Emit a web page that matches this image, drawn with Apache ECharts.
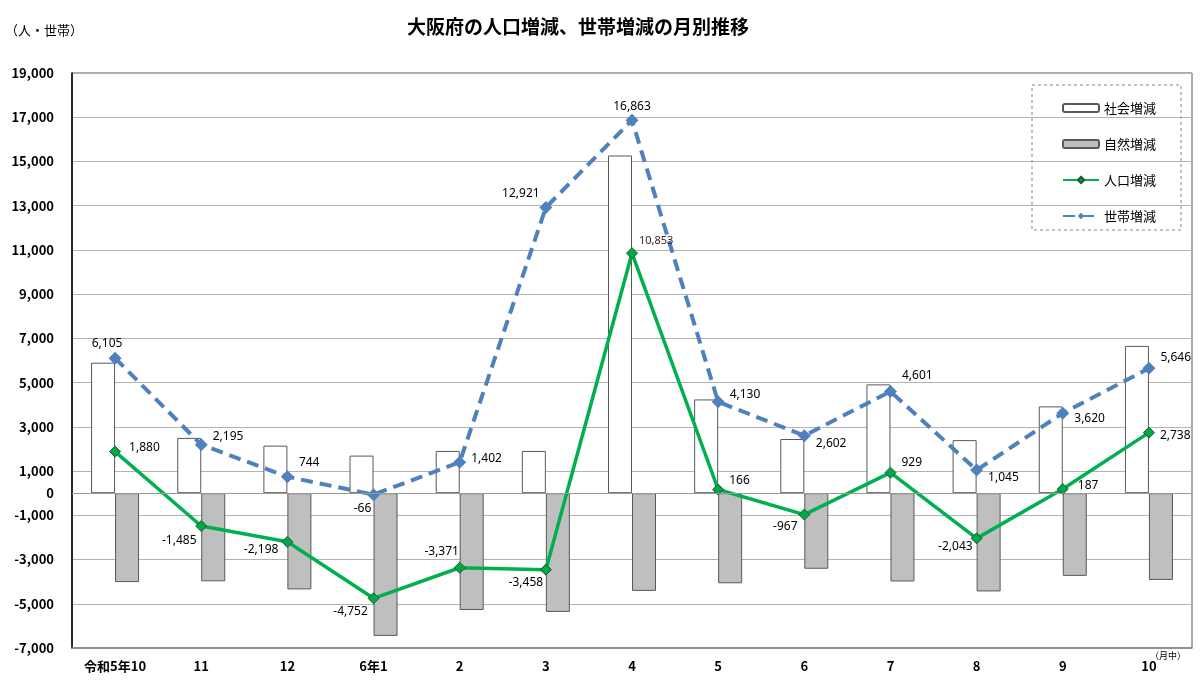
<!DOCTYPE html>
<html lang="ja">
<head>
    <meta charset="UTF-8">
    <title>大阪府の人口増減、世帯増減の月別推移</title>
    <style>
        html, body {
            margin: 0;
            height: 100%;
            background: #fff;
        }
        #main {
            width: 1200px;
            height: 699px;
        }
    </style>
    <script src="https://cdn.jsdelivr.net/npm/echarts@6/dist/echarts.min.js"></script>
</head>
<body>
    <div id="main"></div>
    <script>
        // 月
        const months = ['令和5年10', '11', '12', '6年1', '2', '3', '4', '5', '6', '7', '8', '9', '10']
        // 社会増減・自然増減（棒、目盛りから読み取り）
        const socialChange = [5900, 2500, 2150, 1700, 1910, 1910, 15270, 4240, 2450, 4920, 2400, 3925, 6660]
        const naturalChange = [-4020, -3985, -4350, -6452, -5281, -5368, -4417, -4074, -3417, -3991, -4443, -3738, -3922]
        // 人口増減・世帯増減（折れ線）
        const populationChange = [1880, -1485, -2198, -4752, -3371, -3458, 10853, 166, -967, 929, -2043, 187, 2738]
        const householdChange = [6105, 2195, 744, -66, 1402, 12921, 16863, 4130, 2602, 4601, 1045, 3620, 5646]

        // ラベルの置き場所 [position, dx, dy]
        const householdLabelPos = [
            ['top', -8, 3], ['right', 0, -8], ['right', 0, -14], ['bottom', -11, -4],
            ['right', 0, -4], ['top', -25, 4], ['top', 0, 4], ['right', 0, -7],
            ['right', 0, 8], ['right', 0, -16], ['right', 0, 7], ['right', 0, 5], ['right', 0, -11]
        ]
        const populationLabelPos = [
            ['right', 3, -4], ['bottom', -22, -2], ['left', 2, 8], ['bottom', -23, -4],
            ['top', -18, 1], ['bottom', -20, -4], ['right', -4, -12], ['right', 0, -9],
            ['bottom', -19, -5], ['right', 0, -10], ['left', 7, 8], ['right', 4, -3], ['right', 0, 3]
        ]

        const fmt = v => v.toLocaleString('en-US')
        const boldFont = '"Noto Sans CJK JP", sans-serif'
        const numFont = '"Noto Sans", sans-serif'

        function withLabels (values, pos) {
            return values.map((v, i) => ({
                value: v,
                label: {
                    position: pos[i][0],
                    offset: [pos[i][1], pos[i][2]]
                }
            }))
        }

        const popData = withLabels(populationChange, populationLabelPos)
        popData[6].label.fontSize = 11
        popData[6].label.color = '#3c1e1e'

        const chart = echarts.init(document.getElementById('main'))

        chart.setOption({
            animation: false,
            title: {
                text: '大阪府の人口増減、世帯増減の月別推移',
                left: 402,
                top: 12,
                textStyle: { fontFamily: boldFont, fontSize: 19, fontWeight: 'bold', color: '#000' }
            },
            grid: {
                left: 72,
                right: 8,
                top: 73,
                bottom: 51,
                show: true,
                borderColor: '#555',
                borderWidth: 1
            },
            legend: {
                orient: 'vertical',
                left: 1057,
                top: 95,
                itemWidth: 36,
                itemHeight: 8,
                itemGap: 20,
                textStyle: { fontFamily: boldFont, fontSize: 13, color: '#000', lineHeight: 16 },
                data: ['社会増減', '自然増減', '人口増減', '世帯増減']
            },
            graphic: [
                {
                    type: 'rect',
                    shape: { x: 1032, y: 85, width: 149, height: 145 },
                    style: { fill: '#fff', stroke: '#888', lineWidth: 1, lineDash: [3, 3] },
                    z: -1
                },
                {
                    type: 'text',
                    left: 5,
                    top: 24,
                    style: { text: '（人・世帯）', font: '13px "Noto Sans CJK JP"', fill: '#000' }
                },
                {
                    type: 'text',
                    left: 1150,
                    top: 651,
                    style: { text: '（月中）', font: '9px "Noto Sans CJK JP"', fill: '#000' }
                }
            ],
            xAxis: {
                type: 'category',
                data: months,
                axisLine: { onZero: false, lineStyle: { color: '#888', width: 1.5 } },
                axisTick: { show: false },
                axisLabel: {
                    margin: 12,
                    interval: 0,
                    fontFamily: boldFont,
                    fontWeight: 'bold',
                    fontSize: 13,
                    color: '#000'
                }
            },
            yAxis: {
                type: 'value',
                min: -7000,
                max: 19000,
                interval: 1000,
                axisLine: { show: true, lineStyle: { color: '#000', width: 1.5 } },
                axisTick: { show: false },
                axisLabel: {
                    margin: 18,
                    fontFamily: boldFont,
                    fontWeight: 'bold',
                    fontSize: 13,
                    color: '#000',
                    formatter: v => (v === 0 || Math.abs(v) % 2000 === 1000) ? fmt(v) : ''
                },
                splitLine: {
                    lineStyle: { color: ['#b3b3b3', 'rgba(0,0,0,0)'], width: 1 }
                }
            },
            series: [
                {
                    name: '社会増減',
                    type: 'bar',
                    barWidth: 24,
                    barGap: '0%',
                    itemStyle: { color: '#fff', borderColor: '#595959', borderWidth: 1 },
                    data: socialChange,
                    markLine: {
                        silent: true,
                        symbol: 'none',
                        label: { show: false },
                        lineStyle: { color: '#999', type: 'solid', width: 1 },
                        data: [{ yAxis: 0 }]
                    }
                },
                {
                    name: '自然増減',
                    type: 'bar',
                    barWidth: 24,
                    barGap: '0%',
                    itemStyle: { color: '#bfbfbf', borderColor: '#595959', borderWidth: 1 },
                    data: naturalChange
                },
                {
                    name: '人口増減',
                    type: 'line',
                    symbol: 'diamond',
                    symbolSize: 11,
                    z: 4,
                    lineStyle: { color: '#00b050', width: 3.5 },
                    itemStyle: { color: '#00a84a', borderColor: '#1a5a2a', borderWidth: 1 },
                    label: {
                        show: true,
                        fontFamily: numFont,
                        fontSize: 12,
                        color: '#000',
                        formatter: p => fmt(p.value)
                    },
                    data: popData
                },
                {
                    name: '世帯増減',
                    type: 'line',
                    symbol: 'diamond',
                    symbolSize: 13,
                    z: 3,
                    lineStyle: { color: '#4f81bd', width: 4, type: [12, 7] },
                    itemStyle: { color: '#4f81bd' },
                    label: {
                        show: true,
                        fontFamily: numFont,
                        fontSize: 12,
                        color: '#000',
                        formatter: p => fmt(p.value)
                    },
                    data: withLabels(householdChange, householdLabelPos)
                }
            ]
        })
    </script>
</body>
</html>
